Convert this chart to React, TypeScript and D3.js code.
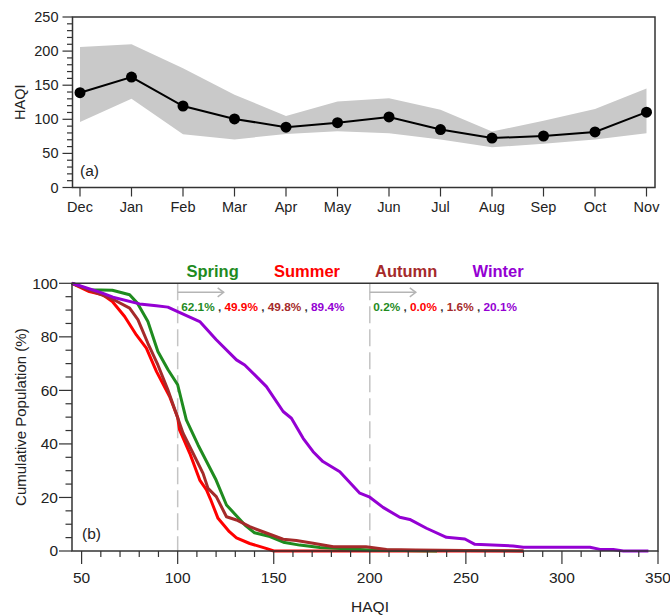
import React from "react";
import * as d3 from "d3";

const months = ["Dec", "Jan", "Feb", "Mar", "Apr", "May", "Jun", "Jul", "Aug", "Sep", "Oct", "Nov"];
const monthMean = [139, 162, 119.5, 100.5, 88.5, 95, 103.5, 85, 72.5, 75.5, 81.5, 110.5];
const monthUpper = [206, 210, 175, 136, 105, 126, 131, 114, 82, 98, 115, 145];
const monthLower = [96, 130, 78, 70.5, 78.5, 82.5, 79.5, 70.5, 59, 64, 70.5, 79.5];
const topYTicks = [0, 50, 100, 150, 200, 250];

const springX = [45, 54, 66, 75, 79, 84.5, 89.7, 95, 100, 104.5, 110.6, 120, 125.4, 135, 140, 148, 155, 163.5, 174, 185, 200, 235];
const springY = [100, 97.6, 97.4, 95.7, 92.6, 85.7, 74.5, 67.7, 62.1, 49, 39.6, 26.5, 17.2, 9.7, 6.8, 5.4, 3.3, 2.2, 1.3, 0.9, 0.4, 0];
const summerX = [45, 54, 61, 66, 72.4, 78.5, 83.7, 89, 95.8, 100, 101, 106.3, 111.5, 115, 117, 121, 126.9, 130.6, 137.5, 146, 150, 280];
const summerY = [100, 96.9, 95.7, 93.2, 87.6, 80.7, 75.8, 67, 57.7, 49.9, 45.2, 36.5, 26.5, 22.8, 19.5, 12.2, 7.2, 4.9, 2.8, 1.0, 0, 0];
const autumnX = [45, 54.4, 62.8, 68, 75, 79.3, 84.5, 89.7, 94.9, 100, 102.8, 108, 113.2, 115.8, 120.1, 125.4, 130.6, 137.5, 144.4, 154.9, 161.8, 170.5, 181, 198, 208.7, 224, 250, 280];
const autumnY = [100, 97.4, 95, 93.4, 90.7, 86.4, 77.6, 69.5, 60.2, 49.8, 44, 36.5, 29, 23.4, 20.3, 12.8, 11.6, 9.1, 7.2, 4.4, 3.9, 2.9, 1.6, 1.6, 0.6, 0.4, 0.2, 0];
const winterX = [45, 59.4, 66.3, 80.2, 88.9, 94.9, 100, 111.5, 120.1, 130.6, 134.9, 141.8, 146.2, 154.9, 159.2, 165.3, 170.5, 175.6, 184.4, 194.8, 200, 206.9, 215.6, 220.8, 229.5, 239.9, 249.5, 254.7, 274.6, 279.9, 314.6, 319.8, 326.7, 332, 345];
const winterY = [100, 96.7, 94.8, 92.3, 91.6, 91.1, 89.4, 85.7, 78.9, 71.4, 69.5, 64.6, 61.4, 52.1, 49.6, 42.1, 37.1, 33.4, 29.6, 21.6, 20.1, 16.3, 12.6, 11.8, 8.5, 5.1, 4.5, 2.5, 1.9, 1.4, 1.4, 0.6, 0.6, 0, 0];

const seasons = ["Spring", "Summer", "Autumn", "Winter"];
const seasonColors = ["#1f8b1f", "#ff0000", "#a52a2a", "#9400d3"];
const pctAbove100 = ["62.1%", "49.9%", "49.8%", "89.4%"];
const pctAbove200 = ["0.2%", "0.0%", "1.6%", "20.1%"];
const thresholds = [100, 200];
const botXTicks = [50, 100, 150, 200, 250, 300, 350];
const botYTicks = [0, 20, 40, 60, 80, 100];

const FONT = "'Liberation Sans', Arial, Helvetica, sans-serif";

export default function App() {
  // top panel
  const tL = 72.5, tR = 655, tT = 17, tB = 187.5;
  const tx = d3.scalePoint<string>().domain(months).range([80, 646.5]);
  const ty = d3.scaleLinear().domain([0, 250]).range([tB, tT]);
  const area = d3.area<number>()
    .x((_, i) => tx(months[i])!)
    .y0((_, i) => ty(monthLower[i]))
    .y1((_, i) => ty(monthUpper[i]));
  const line = d3.line<number>().x((_, i) => tx(months[i])!).y((d) => ty(d));
  const topMinor = d3.range(0, 251, 10);

  // bottom panel
  const bL = 72, bR = 658, bT = 283.3, bB = 551;
  const bx = d3.scaleLinear().domain([45, 350]).range([bL, bR]);
  const by = d3.scaleLinear().domain([0, 100]).range([bB, bT]);
  const seriesX = [summerX, springX, autumnX, winterX];
  const seriesY = [summerY, springY, autumnY, winterY];
  const seriesC = [seasonColors[1], seasonColors[0], seasonColors[2], seasonColors[3]];
  const cl = d3.line<[number, number]>().x((d) => bx(d[0])).y((d) => by(d[1]));
  const botMinorX = d3.range(50, 351, 10);
  const botMinorY = d3.range(0, 101, 5);
  const seasonLabelX = [186.5, 274, 375, 472.5];
  const pctGroups = [pctAbove100, pctAbove200];

  return (
    <div style={{ position: "absolute", left: 0, top: 0 }}>
      <svg width={670} height={615} style={{ display: "block", fontFamily: FONT }}>
        <rect width={670} height={615} fill="#fff" />
        {/* ---------- Panel (a) ---------- */}
        <path d={area(monthMean)!} fill="#c9c9c9" />
        <path d={line(monthMean)!} fill="none" stroke="#000" strokeWidth={2} />
        {monthMean.map((v, i) => (
          <circle key={i} cx={tx(months[i])} cy={ty(v)} r={5.5} fill="#000" />
        ))}
        <rect x={tL} y={tT} width={tR - tL} height={tB - tT} fill="none" stroke="#333" strokeWidth={1.5} />
        {topMinor.map((v) => (
          <line key={v} x1={tL} x2={tL - (v % 50 === 0 ? 10 : 5.5)} y1={ty(v)} y2={ty(v)} stroke="#333" strokeWidth={1.2} />
        ))}
        {topYTicks.map((v) => (
          <text key={v} x={58.5} y={ty(v)} dy="0.35em" textAnchor="end" fontSize={14.5} fill="#222">{v}</text>
        ))}
        {months.map((m) => (
          <g key={m}>
            <line x1={tx(m)} x2={tx(m)} y1={tB} y2={tB + 9} stroke="#333" strokeWidth={1.2} />
            <text x={tx(m)} y={212} textAnchor="middle" fontSize={14.5} fill="#222">{m}</text>
          </g>
        ))}
        <text transform={`translate(19.5,${(tT + tB) / 2}) rotate(-90)`} textAnchor="middle" dy="0.35em" fontSize={14.5} fill="#222">HAQI</text>
        <text x={80} y={176} fontSize={15.5} fill="#222">(a)</text>

        {/* ---------- Panel (b) ---------- */}
        {thresholds.map((t) => (
          <line key={t} x1={bx(t)} x2={bx(t)} y1={bT} y2={bB} stroke="#c4c4c4" strokeWidth={1.5} strokeDasharray="17,6" />
        ))}
        {seriesX.map((xs, s) => (
          <path key={s} d={cl(xs.map((x, i) => [x, seriesY[s][i]] as [number, number]))!} fill="none" stroke={seriesC[s]} strokeWidth={3} strokeLinejoin="round" />
        ))}
        <path d={`M${bL},${bT}H${bR}V${bB}H${bL}Z`} fill="none" stroke="#333" strokeWidth={1.5} />
        {botMinorX.map((v) => (
          <line key={v} x1={bx(v)} x2={bx(v)} y1={bB} y2={bB + (v % 50 === 0 ? 13 : 6)} stroke="#333" strokeWidth={1.2} />
        ))}
        {botXTicks.map((v) => (
          <text key={v} x={bx(v)} y={578} dy="0.35em" textAnchor="middle" fontSize={15.5} fill="#222">{v}</text>
        ))}
        {botMinorY.map((v) => (
          <line key={v} x1={bL} x2={bL - (v % 20 === 0 ? 13 : 6.5)} y1={by(v)} y2={by(v)} stroke="#333" strokeWidth={1.2} />
        ))}
        {botYTicks.map((v) => (
          <text key={v} x={58} y={by(v)} dy="0.35em" textAnchor="end" fontSize={15.5} fill="#222">{v}</text>
        ))}
        <text transform={`translate(21,${(bT + bB) / 2}) rotate(-90)`} textAnchor="middle" dy="0.35em" fontSize={15} fill="#222">Cumulative Population (%)</text>
        <text x={370} y={612} textAnchor="middle" fontSize={15.5} fill="#222">HAQI</text>
        <text x={82} y={539} fontSize={15.5} fill="#222">(b)</text>

        {seasons.map((s, i) => (
          <text key={s} x={seasonLabelX[i]} y={276.5} fontSize={16.5} fontWeight="bold" fill={seasonColors[i]}>{s}</text>
        ))}
        {thresholds.map((t, g) => {
          const x0 = bx(t);
          const x1 = x0 + 46;
          const y0 = 292.3;
          return (
            <g key={t}>
              <line x1={x0} x2={x1} y1={y0} y2={y0} stroke="#b5b5b5" strokeWidth={1.5} />
              <polyline points={`${x1 - 6},${y0 - 4.5} ${x1},${y0} ${x1 - 6},${y0 + 4.5}`} fill="none" stroke="#b5b5b5" strokeWidth={1.5} />
              <text x={x0 + 3.5} y={310.5} fontSize={11.8} fontWeight="bold">
                {pctGroups[g].map((p, i) => (
                  <React.Fragment key={i}>
                    {i > 0 && <tspan fill="#333">{" , "}</tspan>}
                    <tspan fill={seasonColors[i]}>{p}</tspan>
                  </React.Fragment>
                ))}
              </text>
            </g>
          );
        })}
      </svg>
    </div>
  );
}
